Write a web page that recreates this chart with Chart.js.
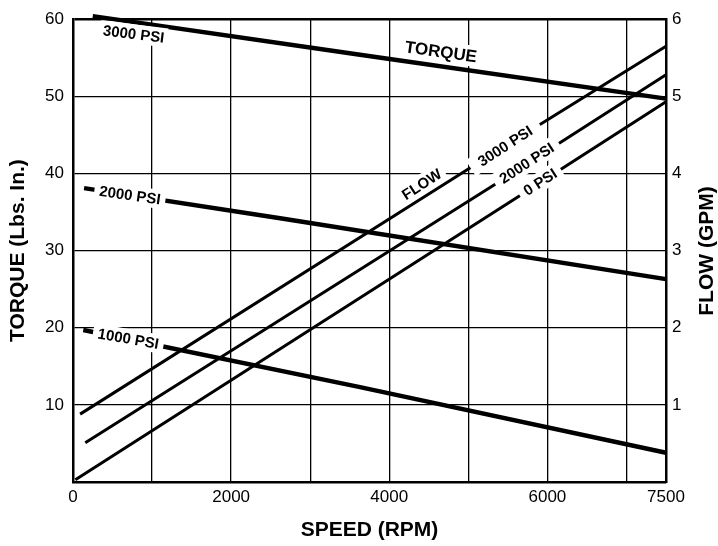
<!DOCTYPE html>
<html>
<head>
<meta charset="utf-8">
<script src="https://cdn.jsdelivr.net/npm/chart.js@4/dist/chart.umd.min.js"></script>
<style>
    html, body { margin: 0; padding: 0; background: #fff; }
    #wrap { width: 718px; height: 546px; }
</style>
</head>
<body>
<div id="wrap"><canvas id="chart"></canvas></div>
<script>
// speed (rpm) and torque (lbs. in.)
var torqueSpeed3000 = [250, 3630, 7500];
var torque3000 = [60.4, 55.4, 49.7];
var torqueSpeed2000 = [140, 2620, 7500];
var torque2000 = [38.1, 34.2, 26.3];
var torqueSpeed1000 = [130, 3630, 7500];
var torque1000 = [19.7, 12.3, 3.8];

// speed (rpm) and flow (gpm)
var flowSpeed3000 = [90, 5020, 7500];
var flow3000 = [0.88, 4.07, 5.65];
var flowSpeed2000 = [155, 5340, 7500];
var flow2000 = [0.51, 3.86, 5.28];
var flowSpeed0 = [30, 5650, 7500];
var flow0 = [0.03, 3.71, 4.93];

// ticks
var speedGrid = [0, 1000, 2000, 3000, 4000, 5000, 6000, 7000, 7500];
var speedLabels = [0, 2000, 4000, 6000, 7500];

// text sitting on the lines, anchored in data units
var lineLabels = [
    { text: '3000 PSI', axis: 'y', x: 768, y: 58.1, angle: 7, size: 15, pad: 3 },
    { text: '2000 PSI', axis: 'y', x: 720, y: 37.2, angle: 8, size: 15, pad: 5 },
    { text: '1000 PSI', axis: 'y', x: 700, y: 18.6, angle: 10, size: 15, pad: 5 },
    { text: 'TORQUE', axis: 'y', x: 4654, y: 55.8, angle: 8, size: 17, pad: 3 },
    { text: 'FLOW', axis: 'y1', x: 4410, y: 3.86, angle: -33, size: 15, pad: 4 },
    { text: '3000 PSI', axis: 'y1', x: 5464, y: 4.357, angle: -33, size: 15, pad: 10 },
    { text: '2000 PSI', axis: 'y1', x: 5738, y: 4.135, angle: -33, size: 15, pad: 7 },
    { text: '0 PSI', axis: 'y1', x: 5907, y: 3.89, angle: -33, size: 15, pad: 6 }
];

var FONT = '"Liberation Sans", Arial, sans-serif';

function pts(xs, ys) {
    return xs.map(function (v, i) { return { x: v, y: ys[i] }; });
}

function curve(xs, ys, axis, width) {
    return {
        data: pts(xs, ys),
        yAxisID: axis,
        borderColor: '#000',
        borderWidth: width,
        pointRadius: 0,
        tension: 0,
        fill: false,
        clip: false
    };
}

var labelPlugin = {
    id: 'lineLabels',
    afterDatasetsDraw: function (chart) {
        var ctx = chart.ctx;
        var xs = chart.scales.x;
        lineLabels.forEach(function (l) {
            var px = xs.getPixelForValue(l.x);
            var py = chart.scales[l.axis].getPixelForValue(l.y);
            ctx.save();
            ctx.translate(px, py);
            ctx.rotate(l.angle * Math.PI / 180);
            ctx.font = 'bold ' + l.size + 'px ' + FONT;
            var w = ctx.measureText(l.text).width;
            var h = l.size + 4;
            ctx.fillStyle = '#fff';
            ctx.fillRect(-w / 2 - l.pad, -h / 2, w + 2 * l.pad, h);
            ctx.fillStyle = '#000';
            ctx.textAlign = 'center';
            ctx.textBaseline = 'middle';
            ctx.fillText(l.text, 0, 1);
            ctx.restore();
        });

        // right axis title reads bottom to top like the left one
        ctx.save();
        ctx.translate(707, 251);
        ctx.rotate(-Math.PI / 2);
        ctx.font = 'bold 21px ' + FONT;
        ctx.fillStyle = '#000';
        ctx.textAlign = 'center';
        ctx.textBaseline = 'middle';
        ctx.fillText('FLOW (GPM)', 0, 0);
        ctx.restore();
    }
};

var ctx = document.getElementById('chart').getContext('2d');
ctx.canvas.width = 718;
ctx.canvas.height = 546;
var chart = new Chart(ctx, {
    type: 'line',
    data: {
        datasets: [
            curve(torqueSpeed3000, torque3000, 'y', 4.5),
            curve(torqueSpeed2000, torque2000, 'y', 4.5),
            curve(torqueSpeed1000, torque1000, 'y', 4.5),
            curve(flowSpeed3000, flow3000, 'y1', 3),
            curve(flowSpeed2000, flow2000, 'y1', 3),
            curve(flowSpeed0, flow0, 'y1', 3)
        ]
    },
    plugins: [labelPlugin],
    options: {
        responsive: false,
        animation: false,
        layout: { padding: { top: 10, left: 0, right: 0, bottom: 0 } },
        plugins: {
            legend: { display: false },
            tooltip: { enabled: false }
        },
        scales: {
            x: {
                type: 'linear',
                min: 0,
                max: 7500,
                afterBuildTicks: function (s) {
                    s.ticks = speedGrid.map(function (v) { return { value: v }; });
                },
                afterFit: function (s) { s.height = 64; },
                ticks: {
                    autoSkip: false,
                    maxRotation: 0,
                    padding: 5,
                    color: '#000',
                    font: { family: FONT, size: 17 },
                    callback: function (v) {
                        return speedLabels.indexOf(v) >= 0 ? String(v) : '';
                    }
                },
                grid: { color: '#000', lineWidth: 1.3, drawTicks: false, tickLength: 0 },
                border: { color: '#000', width: 2.5 },
                title: {
                    display: true,
                    text: 'SPEED (RPM)',
                    color: '#000',
                    font: { family: FONT, size: 21, weight: 'bold' },
                    padding: { top: 0, bottom: 3 }
                }
            },
            y: {
                position: 'left',
                min: 0,
                max: 60,
                afterFit: function (s) { s.width = 73; },
                ticks: {
                    stepSize: 10,
                    padding: 9,
                    color: '#000',
                    font: { family: FONT, size: 17 },
                    callback: function (v) { return v === 0 ? '' : v; }
                },
                grid: {
                    color: '#000',
                    drawTicks: false,
                    tickLength: 0,
                    lineWidth: function (c) { return c.tick && c.tick.value === 60 ? 2.5 : 1.3; }
                },
                border: { color: '#000', width: 2.5 },
                title: {
                    display: true,
                    text: 'TORQUE (Lbs. In.)',
                    color: '#000',
                    font: { family: FONT, size: 21, weight: 'bold' },
                    padding: { top: 6, bottom: 0 }
                }
            },
            y1: {
                position: 'right',
                min: 0,
                max: 6,
                afterFit: function (s) { s.width = 52; },
                ticks: {
                    stepSize: 1,
                    padding: 6,
                    color: '#000',
                    font: { family: FONT, size: 17 },
                    callback: function (v) { return v === 0 ? '' : v; }
                },
                grid: { drawOnChartArea: false, drawTicks: false, tickLength: 0 },
                border: { color: '#000', width: 2.5 }
            }
        }
    }
});
</script>
</body>
</html>
